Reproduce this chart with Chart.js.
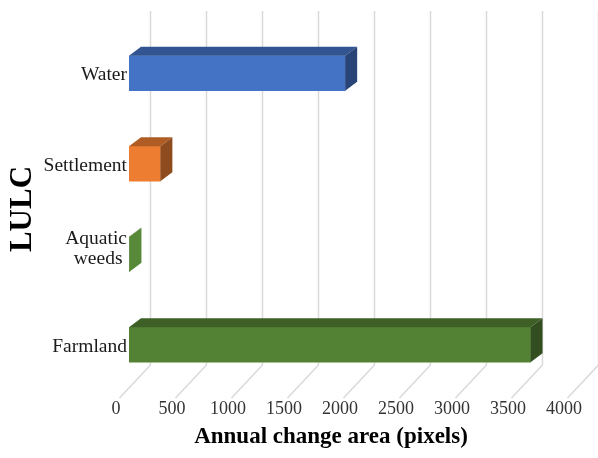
<!DOCTYPE html>
<html>
<head>
<meta charset="utf-8">
<script src="https://cdn.jsdelivr.net/npm/chart.js@4.4.1/dist/chart.umd.min.js"></script>
<style>
    body { margin: 0; background: #fff; }
</style>
</head>
<body>
<canvas id="myChart" width="598" height="458"></canvas>
<script>
var categories = ['Water', 'Settlement', ['Aquatic', 'weeds'], 'Farmland'];
var changeArea = [1930, 280, 4, 3585];
var barColors = ['#4472C4', '#ED7D31', '#548235', '#548235'];
var tickValues = [0, 500, 1000, 1500, 2000, 2500, 3000, 3500, 4000];

var serif = "'Liberation Serif', 'Times New Roman', serif";

// depth of the boxes and of the back wall / floor
var BAR_DX = 12, BAR_DY = -9;
var WALL_DX = 21.5;
var FLOOR_DX = 31, FLOOR_DY = 33;

function shade(hex, f) {
    var n = parseInt(hex.slice(1), 16);
    var r = Math.round(((n >> 16) & 255) * f);
    var g = Math.round(((n >> 8) & 255) * f);
    var b = Math.round((n & 255) * f);
    return 'rgb(' + r + ',' + g + ',' + b + ')';
}

var bars3d = {
    id: 'bars3d',
    beforeDatasetsDraw: function (chart) {
        var ctx = chart.ctx;
        var x = chart.scales.x;
        var area = chart.chartArea;
        var wallTop = area.top - 17;
        var wallBottom = area.bottom - 25;
        ctx.save();
        ctx.strokeStyle = '#d9d9d9';
        ctx.lineWidth = 1.5;
        x.ticks.forEach(function (t) {
            var px = x.getPixelForValue(t.value) + WALL_DX;
            ctx.beginPath();
            ctx.moveTo(px, wallTop);
            ctx.lineTo(px, wallBottom);
            ctx.lineTo(px - FLOOR_DX, wallBottom + FLOOR_DY);
            ctx.stroke();
        });
        ctx.restore();
    },
    afterDatasetsDraw: function (chart) {
        var ctx = chart.ctx;
        var meta = chart.getDatasetMeta(0);
        ctx.save();
        meta.data.forEach(function (bar, i) {
            var x0 = bar.base, x1 = bar.x;
            var top = bar.y - bar.height / 2;
            var bottom = bar.y + bar.height / 2;
            var col = barColors[i];
            // a box with almost no length shows its end as a flat sliver
            var thin = (x1 - x0) < 2;

            // top face
            ctx.fillStyle = shade(col, 0.74);
            ctx.beginPath();
            ctx.moveTo(x0, top);
            ctx.lineTo(x0 + BAR_DX, top + BAR_DY);
            ctx.lineTo(x1 + BAR_DX, top + BAR_DY);
            ctx.lineTo(x1, top);
            ctx.closePath();
            ctx.fill();

            // end face
            ctx.fillStyle = shade(col, thin ? 1.05 : 0.6);
            ctx.beginPath();
            ctx.moveTo(x1, top);
            ctx.lineTo(x1 + BAR_DX, top + BAR_DY);
            ctx.lineTo(x1 + BAR_DX, bottom + BAR_DY);
            ctx.lineTo(x1, bottom);
            ctx.closePath();
            ctx.fill();
        });
        ctx.restore();
    },
    afterDraw: function (chart) {
        var ctx = chart.ctx;
        var x = chart.scales.x;
        var y = chart.scales.y;
        ctx.save();

        // category names, right aligned; wrapped names centred on each other
        ctx.fillStyle = '#1a1a1a';
        ctx.font = '19.5px ' + serif;
        ctx.textBaseline = 'middle';
        categories.forEach(function (label, i) {
            var cy = y.getPixelForValue(i);
            var right = x.left - 2;
            if (Array.isArray(label)) {
                var w = Math.max.apply(null, label.map(function (s) { return ctx.measureText(s).width; }));
                var cx = right - w / 2;
                ctx.textAlign = 'center';
                label.forEach(function (s, k) {
                    ctx.fillText(s, cx + (k ? 2 : 0), cy - 15 + k * 20);
                });
            } else {
                ctx.textAlign = 'right';
                ctx.fillText(label, right, cy + 2);
            }
        });

        // value axis title
        ctx.fillStyle = '#000';
        ctx.font = 'bold 23px ' + serif;
        ctx.textAlign = 'center';
        ctx.fillText('Annual change area (pixels)', (x.left + x.right) / 2 - 22, 437);
        ctx.restore();
    }
};

var ctx = document.getElementById('myChart');

new Chart(ctx, {
    type: 'bar',
    data: {
        labels: categories,
        datasets: [{
            data: changeArea,
            backgroundColor: barColors,
            borderWidth: 0,
            barThickness: 35
        }]
    },
    options: {
        indexAxis: 'y',
        responsive: false,
        animation: false,
        layout: { padding: { top: 28, right: 21, bottom: 0, left: 0 } },
        plugins: {
            legend: { display: false },
            tooltip: { enabled: false }
        },
        scales: {
            x: {
                min: 0,
                max: 4000,
                afterBuildTicks: function (s) {
                    s.ticks = tickValues.map(function (v) { return { value: v }; });
                },
                afterFit: function (s) {
                    s.height = 68;
                    s.paddingLeft = 0;
                    s.paddingRight = 0;
                },
                grid: { display: false, drawTicks: false },
                border: { display: false },
                ticks: {
                    labelOffset: -13,
                    padding: 8,
                    color: '#333',
                    font: { family: serif, size: 18 },
                    callback: function (v) { return String(v); }
                }
            },
            y: {
                afterFit: function (s) { s.width = 129; },
                grid: { display: false, drawTicks: false },
                border: { display: false },
                ticks: { display: false },
                title: {
                    display: true,
                    text: 'LULC',
                    color: '#000',
                    font: { family: serif, size: 31, weight: 'bold' },
                    padding: { top: 4, bottom: 0 }
                }
            }
        }
    },
    plugins: [bars3d]
});
</script>
</body>
</html>
